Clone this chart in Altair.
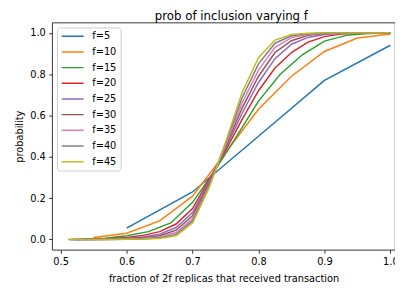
import altair as alt
import pandas as pd

# ---- data ----
names = ["f=5", "f=10", "f=15", "f=20", "f=25", "f=30", "f=35", "f=40", "f=45"]
colors = ["#1f77b4", "#ff7f0e", "#2ca02c", "#d62728", "#9467bd",
          "#8c564b", "#e377c2", "#7f7f7f", "#bcbd22"]

x5 = [0.6, 0.7, 0.8, 0.9, 1.0]
y5 = [0.055, 0.23, 0.50, 0.77, 0.94]

x10 = [0.55, 0.6, 0.65, 0.7, 0.75, 0.8, 0.85, 0.9, 0.95, 1.0]
y10 = [0.01, 0.03, 0.09, 0.21, 0.42, 0.63, 0.79, 0.91, 0.975, 0.995]

x15 = [0.533, 0.567, 0.6, 0.633, 0.667, 0.7, 0.733, 0.767, 0.8, 0.833,
       0.867, 0.9, 0.933, 0.967, 1.0]
y15 = [0.002, 0.006, 0.018, 0.038, 0.08, 0.18, 0.33, 0.50, 0.67, 0.80,
       0.895, 0.96, 0.988, 0.997, 1.0]

grid = [0.55, 0.575, 0.6, 0.625, 0.65, 0.675, 0.7, 0.725, 0.75, 0.775,
        0.8, 0.825, 0.85, 0.875, 0.9, 0.925, 0.95, 0.975, 1.0]
starts = {"f=20": 0.525, "f=25": 0.52, "f=30": 0.517,
          "f=35": 0.514, "f=40": 0.5125, "f=45": 0.511}

y20 = [0.0, 0.002, 0.005, 0.010, 0.020, 0.038, 0.075, 0.15, 0.29, 0.43, 0.58,
       0.72, 0.83, 0.905, 0.955, 0.982, 0.994, 0.998, 1.0, 1.0]
y25 = [0.0, 0.001, 0.003, 0.006, 0.012, 0.026, 0.058, 0.13, 0.28, 0.44, 0.61,
       0.76, 0.875, 0.945, 0.978, 0.992, 0.998, 1.0, 1.0, 1.0]
y30 = [0.0, 0.0, 0.001, 0.003, 0.008, 0.018, 0.045, 0.115, 0.27, 0.45, 0.635,
       0.79, 0.905, 0.962, 0.988, 0.997, 0.999, 1.0, 1.0, 1.0]
y35 = [0.0, 0.0, 0.001, 0.002, 0.005, 0.012, 0.034, 0.10, 0.26, 0.455, 0.66,
       0.82, 0.93, 0.977, 0.993, 0.998, 1.0, 1.0, 1.0, 1.0]
y40 = [0.0, 0.0, 0.0, 0.001, 0.003, 0.008, 0.025, 0.09, 0.255, 0.465, 0.685,
       0.85, 0.95, 0.986, 0.996, 0.999, 1.0, 1.0, 1.0, 1.0]
y45 = [0.0, 0.0, 0.0, 0.001, 0.002, 0.005, 0.018, 0.08, 0.25, 0.47, 0.71,
       0.88, 0.965, 0.992, 0.998, 1.0, 1.0, 1.0, 1.0, 1.0]

x_ticks = [0.5, 0.6, 0.7, 0.8, 0.9, 1.0]
y_ticks = [0.0, 0.2, 0.4, 0.6, 0.8, 1.0]

# ---- build table ----
series = [("f=5", x5, y5), ("f=10", x10, y10), ("f=15", x15, y15)]
for nm, ys in [("f=20", y20), ("f=25", y25), ("f=30", y30),
               ("f=35", y35), ("f=40", y40), ("f=45", y45)]:
    series.append((nm, [starts[nm]] + grid, ys))

rows = []
for i, (nm, xs, ys) in enumerate(series):
    for j, (xv, yv) in enumerate(zip(xs, ys)):
        rows.append({"series": nm, "order": i, "idx": j, "x": xv, "y": yv})
df = pd.DataFrame(rows)

FONT = "DejaVu Sans"

chart = alt.Chart(df).mark_line(strokeWidth=1.5, clip=True).encode(
    x=alt.X("x:Q",
            scale=alt.Scale(domain=[0.487, 1.007], nice=False, zero=False),
            axis=alt.Axis(values=x_ticks, format=".1f",
                          title="fraction of 2f replicas that received transaction")),
    y=alt.Y("y:Q",
            scale=alt.Scale(domain=[-0.05, 1.05], nice=False, zero=False),
            axis=alt.Axis(values=y_ticks, format=".1f", title="probability")),
    color=alt.Color("series:N",
                    scale=alt.Scale(domain=names, range=colors),
                    sort=names,
                    legend=alt.Legend(title=None, orient="none",
                                      legendX=5, legendY=5,
                                      symbolType="stroke", symbolSize=500,
                                      symbolStrokeWidth=1.5,
                                      clipHeight=10,
                                      labelFontSize=10, labelFont=FONT,
                                      labelColor="#000000",
                                      labelOffset=8, rowPadding=6,
                                      padding=4,
                                      fillColor="rgba(255,255,255,0.8)",
                                      strokeColor="#cccccc",
                                      cornerRadius=3)),
    order=alt.Order("idx:Q"),
    detail="series:N",
).properties(
    width=350, height=232,
    padding={"left": 45, "top": 12, "right": 0, "bottom": 31},
    autosize=alt.AutoSizeParams(type="none"),
    title=alt.TitleParams("prob of inclusion varying f", fontSize=12, font=FONT,
                          fontWeight="normal", color="#000000", anchor="middle",
                          dx=8, offset=0),
).configure_view(
    stroke="#000000", strokeWidth=0.8
).configure_axis(
    grid=False, domain=False, tickColor="#000000", tickSize=3.5, tickWidth=0.8,
    labelFont=FONT, labelFontSize=10, labelColor="#000000", labelPadding=3.5,
    titleFont=FONT, titleFontSize=10, titleFontWeight="normal",
    titleColor="#000000",
).configure_axisX(
    titlePadding=7
).configure_axisY(
    titlePadding=5
)

chart.save("out.html", embed_options={"renderer": "svg", "actions": False})
